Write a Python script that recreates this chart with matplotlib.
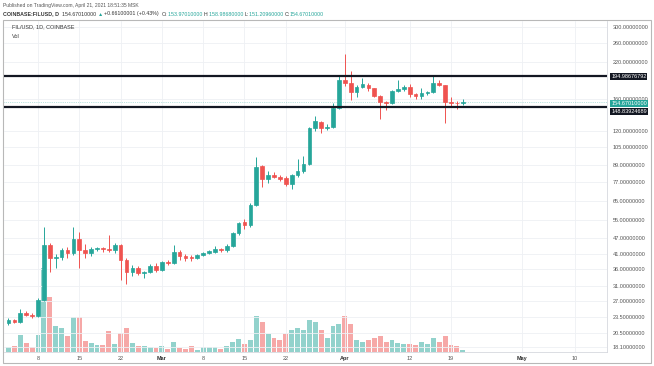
import pandas as pd
import matplotlib
matplotlib.use('Agg')
import matplotlib.pyplot as plt
import matplotlib.dates as mdates
from matplotlib.patches import Rectangle
from matplotlib.ticker import NullLocator

plt.rcParams['font.family'] = ['Liberation Sans', 'DejaVu Sans']

# daily FIL/USD candles, Feb 3 - Apr 21 2021
dates = pd.date_range('2021-02-03', '2021-04-21', freq='D')

opens = [22.4, 22.9, 22.6, 24.4, 24.0, 23.7, 27.4, 44.1, 39.4, 39.9, 42.2, 41.2, 46.6, 42.4,
         41.2, 42.6, 43.0, 42.7, 42.3, 44.1, 38.8, 35.0, 36.1, 34.6, 34.9, 36.8,
         35.6, 38.2, 37.7, 41.8, 40.2, 39.8, 39.5, 40.7, 41.3, 41.6, 42.8, 42.2, 44.0, 49.1,
         54.2, 52.7, 63.0, 88.2, 78.9, 81.7, 80.6, 79.5, 75.9, 81.5, 84.7, 89.8, 123.3, 130.5,
         123.2, 124.8, 147.8,
         188.5, 183.0, 170.0, 177.6, 180.0, 175.0, 163.8, 155.5, 153.4, 171.5, 173.7, 177.6,
         166.6, 163.0, 167.8, 170.0, 183.0, 179.5, 155.8, 154.3, 153.97]
highs = [23.3, 23.1, 25.3, 24.9, 24.4, 27.9, 52.0, 45.0, 41.0, 43.0, 43.3, 52.0, 49.5, 44.7,
         43.5, 43.4, 43.4, 48.4, 45.0, 44.8, 39.5, 37.0, 36.8, 35.3, 37.4, 37.8,
         38.6, 38.8, 44.3, 42.4, 40.8, 40.4, 41.0, 41.6, 42.3, 44.0, 43.2, 44.5, 49.6, 54.2,
         55.5, 64.0, 96.1, 89.5, 85.0, 84.0, 82.0, 81.0, 82.5, 94.0, 97.0, 125.0, 137.7, 132.0,
         127.5, 153.7, 197.0,
         237.6, 204.7, 180.0, 191.0, 183.0, 176.0, 165.0, 157.0, 173.0, 188.5, 181.0, 181.5,
         168.5, 176.0, 171.5, 195.0, 188.5, 181.0, 162.0, 156.5, 158.99]
lows = [22.0, 22.3, 22.3, 23.8, 23.4, 23.5, 27.0, 35.0, 36.2, 38.8, 39.5, 40.5, 36.1, 39.6,
        40.3, 42.0, 41.6, 41.8, 41.4, 32.5, 31.5, 33.8, 34.0, 33.0, 34.5, 35.0,
        35.3, 37.0, 37.3, 38.8, 38.5, 38.5, 39.2, 40.2, 40.9, 41.2, 41.7, 41.8, 43.6, 48.5,
        51.0, 52.0, 62.5, 73.9, 76.0, 79.5, 77.5, 74.0, 72.3, 80.5, 83.5, 89.0, 120.0, 118.5,
        121.0, 123.5, 146.0,
        178.0, 158.0, 162.0, 175.0, 171.0, 162.0, 133.5, 145.0, 152.0, 170.0, 171.0, 162.0,
        160.0, 159.5, 164.5, 168.0, 178.0, 129.5, 150.0, 145.5, 151.21]
closes = [23.0, 22.6, 24.3, 24.0, 23.7, 27.4, 44.1, 39.4, 39.9, 42.2, 41.2, 46.6, 42.4, 41.2,
          42.6, 43.0, 42.6, 42.3, 44.1, 38.8, 35.0, 36.1, 34.6, 34.9, 36.8, 35.6,
          38.2, 37.7, 41.8, 40.2, 39.6, 39.4, 40.7, 41.3, 41.9, 42.8, 42.2, 44.0, 49.1, 53.6,
          52.7, 63.0, 87.8, 78.9, 81.7, 80.6, 78.9, 75.9, 81.5, 84.7, 89.8, 123.3, 130.9, 123.5,
          124.8, 147.8, 188.5,
          183.0, 170.0, 177.6, 181.3, 175.0, 163.8, 154.9, 153.4, 171.5, 173.7, 177.6, 166.6,
          163.0, 167.8, 170.0, 183.0, 180.0, 155.8, 154.3, 153.97, 154.67]
# volume (millions, rough)
volumes = [0.53, 0.6, 1.7, 0.9, 0.5, 1.7, 8.4, 5.5, 2.6, 2.37, 1.6, 3.5, 3.5, 1.1, 0.9, 0.7,
           0.75, 2.1, 0.8, 1.87, 2.4, 0.9, 0.6, 0.6, 0.5, 0.4,
           0.57, 0.33, 1.0, 0.43, 0.33, 0.6, 0.23, 0.5, 0.5, 0.5, 0.33, 0.6, 1.0, 1.33, 0.77, 1.17,
           3.6, 3.0, 1.8, 1.4, 1.2, 1.8, 2.2, 2.4, 2.2, 3.2, 3.0, 2.2, 1.4, 2.6, 2.8,
           3.6, 2.8, 1.2, 1.0, 1.2, 1.4, 1.6, 1.0, 1.2, 0.9, 0.8, 0.8, 0.7, 1.0, 0.8, 1.4, 1.0,
           1.6, 0.7, 0.6, 0.2]

res_upper = 194.98676792
res_lower = 148.83924689
last_price = 154.67010000

price_ticks = [300, 260, 220, 160, 120, 105, 89, 77, 65, 55, 47, 41, 36, 31, 27, 23.5, 20.5, 18.1]
date_ticks = ['2021-02-08', '2021-02-15', '2021-02-22', '2021-03-01', '2021-03-08', '2021-03-15',
              '2021-03-22', '2021-04-01', '2021-04-12', '2021-04-19', '2021-05-01', '2021-05-10']
date_labels = ['8', '15', '22', 'Mar', '8', '15', '22', 'Apr', '12', '19', 'May', '10']

UP = '#26a69a'
DOWN = '#ef5350'
DARK = '#131722'
W, H = 654, 366

fig = plt.figure(figsize=(W / 100, H / 100), dpi=100)
fig.patch.set_facecolor('white')

ax = fig.add_axes([4 / W, 1 - 352 / H, (607 - 4) / W, (352 - 21) / H])
ax2 = ax.twinx()
ax.set_zorder(ax2.get_zorder() + 1)
ax.patch.set_visible(False)

x = mdates.date2num(dates)
colors = [UP if c >= o else DOWN for o, c in zip(opens, closes)]

# volume overlay at the bottom
ax2.bar(x, volumes, width=0.82, color=colors, alpha=0.5, linewidth=0)
ax2.set_ylim(0, 33.1)
ax2.set_yticks([])
for s in ax2.spines.values():
    s.set_visible(False)

# candles
ax.vlines(x, lows, highs, colors=colors, linewidth=0.7, zorder=3)
bottoms = [min(o, c) for o, c in zip(opens, closes)]
heights = [abs(c - o) for o, c in zip(opens, closes)]
ax.bar(x, heights, bottom=bottoms, width=0.62, color=colors, edgecolor=colors,
       linewidth=0.5, zorder=4)

ax.set_yscale('log')
ax.set_ylim(17.3, 316.2)
xmin = mdates.date2num(pd.Timestamp('2021-02-08')) - 5.76
ax.set_xlim(xmin, xmin + 603 / 5.9)

# grid
tick_x = mdates.date2num(pd.to_datetime(date_ticks))
for tx in tick_x:
    ax.axvline(tx, color='#eef0f4', linewidth=0.6, zorder=0)
for p in price_ticks:
    ax.axhline(p, color='#eef0f4', linewidth=0.6, zorder=0)

# support / resistance lines
ax.axhline(res_upper, color=DARK, linewidth=1.6, zorder=5)
ax.axhline(res_lower, color=DARK, linewidth=1.6, zorder=5)
ax.axhline(last_price, color=UP, linewidth=0.5, linestyle=':', alpha=0.6, zorder=2)

ax.yaxis.tick_right()
ax.set_yticks(price_ticks)
ax.set_yticklabels([f'{p:.8f}' for p in price_ticks])
ax.yaxis.set_minor_locator(NullLocator())
ax.tick_params(axis='y', length=0, pad=4, labelsize=4, labelcolor='#555555')

ax.set_xticks(tick_x)
ax.set_xticklabels(date_labels)
ax.tick_params(axis='x', length=0, pad=3, labelsize=4, labelcolor='#555555')
for lbl in ax.get_xticklabels():
    if lbl.get_text() in ('Mar', 'Apr', 'May'):
        lbl.set_fontweight('bold')
        lbl.set_color('#333333')

for side in ('left', 'top'):
    ax.spines[side].set_visible(False)
for side in ('right', 'bottom'):
    ax.spines[side].set_color('#d6d8de')
    ax.spines[side].set_linewidth(0.6)

# price labels on the right scale (lower one nudged down like TradingView does)
ytr = ax.get_yaxis_transform()
for val, bg, dy in [(res_upper, DARK, 0), (last_price, UP, -0.8), (res_lower, DARK, -3.6)]:
    ax.annotate(f'{val:.8f}', xy=(1, val), xycoords=ytr, xytext=(3, dy),
                textcoords='offset points', fontsize=4, color='white',
                va='center', ha='left', annotation_clip=False, zorder=10,
                bbox=dict(boxstyle='square,pad=0.18', fc=bg, ec='none'))

# legend text inside pane
ax.text(8 / 603, 1 - 6 / 331, 'FIL/USD, 1D, COINBASE', transform=ax.transAxes,
        fontsize=4, color='#333333', va='center', ha='left')
ax.text(8 / 603, 1 - 15 / 331, 'Vol', transform=ax.transAxes,
        fontsize=4, color='#333333', va='center', ha='left')

# outer frame
fig.add_artist(Rectangle((3 / W, 1 - 363 / H), 648 / W, 343 / H, transform=fig.transFigure,
                         fill=False, edgecolor='#b8b8b8', linewidth=0.8))

# header
fig.text(3 / W, 1 - 5 / H, 'Published on TradingView.com, April 21, 2021 18:51:35 MSK',
         fontsize=3.6, color='#555555', va='center', ha='left')
parts = [('154.67010000 ', '#333333'), ('\u25b2 ', UP),
         ('+0.66100001 (+0.43%)  ', '#333333'), ('O:', '#333333'), ('153.97010000 ', UP),
         ('H:', '#333333'), ('158.98680000 ', UP), ('L:', '#333333'), ('151.20960000 ', UP),
         ('C:', '#333333'), ('154.67010000', UP)]
anchor = fig.text(3 / W, 1 - 14 / H, 'COINBASE:FILUSD, D  ', fontsize=3.8, color='#333333',
                  va='center', ha='left', fontweight='bold')
for txt, col in parts:
    anchor = ax.annotate(txt, xy=(1, 0.5), xycoords=anchor, va='center', ha='left',
                         fontsize=3.8, color=col, annotation_clip=False)

fig.savefig('out.png', dpi=100)
